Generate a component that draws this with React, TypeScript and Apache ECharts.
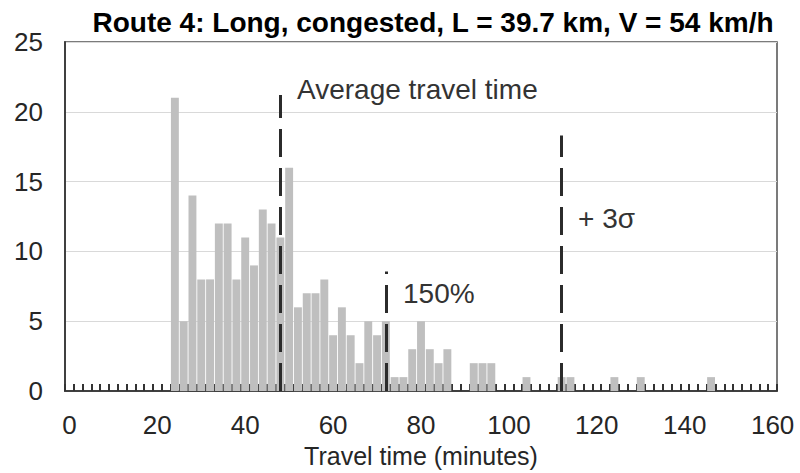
import React, { useEffect, useRef } from "react";
import * as echarts from "echarts";

// Bin centres (minutes), 2-minute bins
const categories: string[] = [
  "0", "2", "4", "6", "8", "10", "12", "14", "16", "18",
  "20", "22", "24", "26", "28", "30", "32", "34", "36", "38",
  "40", "42", "44", "46", "48", "50", "52", "54", "56", "58",
  "60", "62", "64", "66", "68", "70", "72", "74", "76", "78",
  "80", "82", "84", "86", "88", "90", "92", "94", "96", "98",
  "100", "102", "104", "106", "108", "110", "112", "114", "116", "118",
  "120", "122", "124", "126", "128", "130", "132", "134", "136", "138",
  "140", "142", "144", "146", "148", "150", "152", "154", "156", "158",
  "160",
];

// Frequency of each bin
const counts: number[] = [
  0, 0, 0, 0, 0, 0, 0, 0, 0, 0,
  0, 0, 21, 5, 14, 8, 8, 12, 12, 8,
  11, 9, 13, 12, 11, 16, 6, 7, 7, 8,
  4, 6, 4, 2, 5, 4, 5, 1, 1, 3,
  5, 3, 2, 3, 0, 0, 2, 2, 2, 0,
  0, 0, 1, 0, 0, 0, 1, 1, 0, 0,
  0, 0, 1, 0, 0, 1, 0, 0, 0, 0,
  0, 0, 0, 1, 0, 0, 0, 0, 0, 0,
  0,
];

const yTicks = { min: 0, max: 25, interval: 5 };

// Reference lines: bin (minutes) and height they reach
const refLineBins: string[] = ["48", "72", "112"];
const refLineTops: number[] = [21.2, 8.56, 18.3];

const titleText = "Route 4: Long, congested, L = 39.7 km, V = 54 km/h";
const xAxisName = "Travel time (minutes)";
const annotationTexts: string[] = ["Average travel time", "150%", "+ 3σ"];

const FONT = '"Liberation Sans", Arial, sans-serif';

export default function App() {
  const ref = useRef<HTMLDivElement>(null);

  useEffect(() => {
    if (!ref.current) return;
    const chart = echarts.init(ref.current, undefined, { renderer: "svg" });

    const lineStyle = {
      color: "#2b2b2b",
      width: 3,
      type: [28, 11] as any,
    };

    const markData = refLineBins.map((bin, i) => {
      const idx = categories.indexOf(bin);
      return [
        { coord: [idx, 0], lineStyle },
        { coord: [idx, refLineTops[i]] },
      ];
    });

    const annPos = [
      { x: 297, y: 89 },
      { x: 403, y: 293 },
      { x: 578, y: 218 },
    ];

    chart.setOption({
      animation: false,
      backgroundColor: "#ffffff",
      textStyle: { fontFamily: FONT },
      grid: {
        left: 65,
        right: 23,
        top: 42,
        bottom: 74,
        show: true,
        borderColor: "#505050",
        borderWidth: 1.5,
        backgroundColor: "transparent",
      },
      xAxis: {
        type: "category",
        data: categories,
        boundaryGap: true,
        name: xAxisName,
        nameLocation: "middle",
        nameGap: 61,
        nameTextStyle: {
          fontSize: 25,
          color: "#262626",
          fontFamily: FONT,
          verticalAlign: "middle",
        },
        axisLine: { show: true, lineStyle: { color: "#404040", width: 2 } },
        axisTick: {
          show: true,
          inside: true,
          interval: 0,
          length: 7,
          alignWithLabel: false,
          lineStyle: { color: "#333333", width: 2 },
        },
        axisLabel: {
          interval: 9,
          fontSize: 26,
          color: "#262626",
          fontFamily: FONT,
          margin: 21,
        },
        splitLine: { show: false },
      },
      yAxis: {
        type: "value",
        min: yTicks.min,
        max: yTicks.max,
        interval: yTicks.interval,
        axisLine: { show: true, lineStyle: { color: "#404040", width: 2 } },
        axisTick: { show: false },
        axisLabel: {
          fontSize: 26,
          color: "#262626",
          fontFamily: FONT,
          margin: 22,
        },
        splitLine: { show: true, lineStyle: { color: "#d9d9d9", width: 1.2 } },
      },
      series: [
        {
          type: "bar",
          data: counts,
          barCategoryGap: "10%",
          itemStyle: { color: "#bfbfbf" },
          silent: true,
          markLine: {
            silent: true,
            symbol: "none",
            label: { show: false },
            animation: false,
            data: markData,
          },
        },
      ],
      graphic: [
        {
          type: "text",
          x: 433,
          y: 22,
          style: {
            text: titleText,
            font: `bold 28px ${FONT}`,
            fill: "#000000",
            textAlign: "center",
            textVerticalAlign: "middle",
          },
        },
        ...annotationTexts.map((t, i) => ({
          type: "text",
          x: annPos[i].x,
          y: annPos[i].y,
          style: {
            text: t,
            font: `28px ${FONT}`,
            fill: "#333333",
            textAlign: "left",
            textVerticalAlign: "middle",
          },
        })),
      ],
    });

    return () => chart.dispose();
  }, []);

  return (
    <div
      ref={ref}
      style={{ position: "fixed", left: 0, top: 0, width: 800, height: 473 }}
    />
  );
}
